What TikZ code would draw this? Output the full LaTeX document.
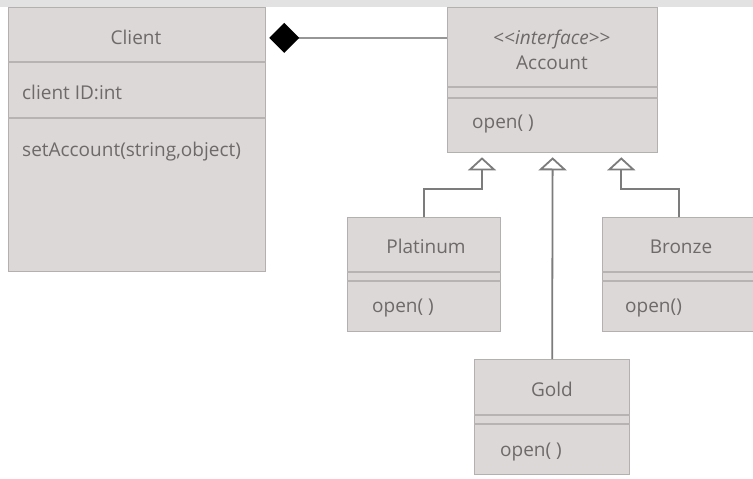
\documentclass[tikz,border=0pt]{standalone}
\usepackage{fontspec}
\setmainfont{Open Sans}
\usetikzlibrary{arrows.meta,calc}

\definecolor{boxfill}{HTML}{DCD8D8}
\definecolor{boxedge}{HTML}{B4B0B0}
\definecolor{sepline}{HTML}{B8B3B3}
\definecolor{txt}{HTML}{6E6A6A}
\definecolor{wire}{HTML}{7C7C7C}
\definecolor{band}{HTML}{E2E2E2}

\tikzset{
  umlbox/.style={draw=boxedge, line width=1.3pt, fill=boxfill, rectangle,
    anchor=north west, inner sep=0pt},
  lbl/.style={text=txt, font=\fontsize{19}{21}\selectfont, inner sep=0pt},
  sep/.style={draw=sepline, line width=1.1pt},
  gen/.style={draw=wire, line width=1.8pt,
    -{Triangle[open, length=13pt, width=28pt, fill=white]}, shorten >=4pt},
  agg/.style={draw=wire!80, line width=2pt,
    -{Diamond[length=30pt, width=30pt, color=black, fill=black]}},
}

\begin{document}
\begin{tikzpicture}[x=1pt, y=-1pt]
  \useasboundingbox (0,0) rectangle (753,479);
  \fill[white] (0,0) rectangle (753,479);
  % grey strip along the top edge
  \fill[band] (0,0) rectangle (753,7);

  % class boxes
  \node[umlbox, minimum width=257pt, minimum height=264pt] (client) at (8,7) {};
  \node[umlbox, minimum width=210pt, minimum height=145pt] (account) at (447,7) {};
  \node[umlbox, minimum width=153pt, minimum height=114pt] (platinum) at (347,217) {};
  \node[umlbox, minimum width=152pt, minimum height=114pt] (bronze) at (602,217) {};
  \node[umlbox, minimum width=155pt, minimum height=115pt] (gold) at (474,359) {};

  % compartment separators
  \draw[sep] (client.west |- 0,62) -- (client.east |- 0,62);
  \draw[sep] (client.west |- 0,118) -- (client.east |- 0,118);
  \draw[sep] (account.west |- 0,87) -- (account.east |- 0,87);
  \draw[sep] (account.west |- 0,98) -- (account.east |- 0,98);
  \draw[sep] (platinum.west |- 0,272) -- (platinum.east |- 0,272);
  \draw[sep] (platinum.west |- 0,281) -- (platinum.east |- 0,281);
  \draw[sep] (bronze.west |- 0,272) -- (bronze.east |- 0,272);
  \draw[sep] (bronze.west |- 0,281) -- (bronze.east |- 0,281);
  \draw[sep] (gold.west |- 0,415) -- (gold.east |- 0,415);
  \draw[sep] (gold.west |- 0,424) -- (gold.east |- 0,424);

  % texts
  \node[lbl, anchor=base] (cname) at (136,45) {Client};
  \node[lbl, anchor=base west] (cattr) at (22,99) {client ID:int};
  \node[lbl, anchor=base west] (cop) at (22,156) {setAccount(string,object)};

  \node[lbl, anchor=base] (astereo) at (552,44) {{<}{<}\textit{interface}{>}{>}};
  \node[lbl, anchor=base] (aname) at (552,69) {Account};
  \node[lbl, anchor=base west] (aop) at (472,128) {open( )};

  \node[lbl, anchor=base] (pname) at (426,253) {Platinum};
  \node[lbl, anchor=base west] (pop) at (372,312) {open( )};

  \node[lbl, anchor=base] (bname) at (681,253) {Bronze};
  \node[lbl, anchor=base west] (bop) at (625,312) {open()};

  \node[lbl, anchor=base] (gname) at (552,396) {Gold};
  \node[lbl, anchor=base west] (gop) at (500,456) {open( )};

  % composition: Client owns an Account
  \draw[agg] (account.west |- cname) -- ([xshift=3pt]client.east |- cname);

  % realisations of the Account interface
  \draw[gen] (platinum.north) -- ++(0,-28) -| ([xshift=35pt]account.south west);
  \draw[gen] (gold.north) -- (account.south);
  \draw[gen] (bronze.north) -- ++(0,-28) -| ([xshift=-37pt]account.south east);
\end{tikzpicture}
\end{document}
